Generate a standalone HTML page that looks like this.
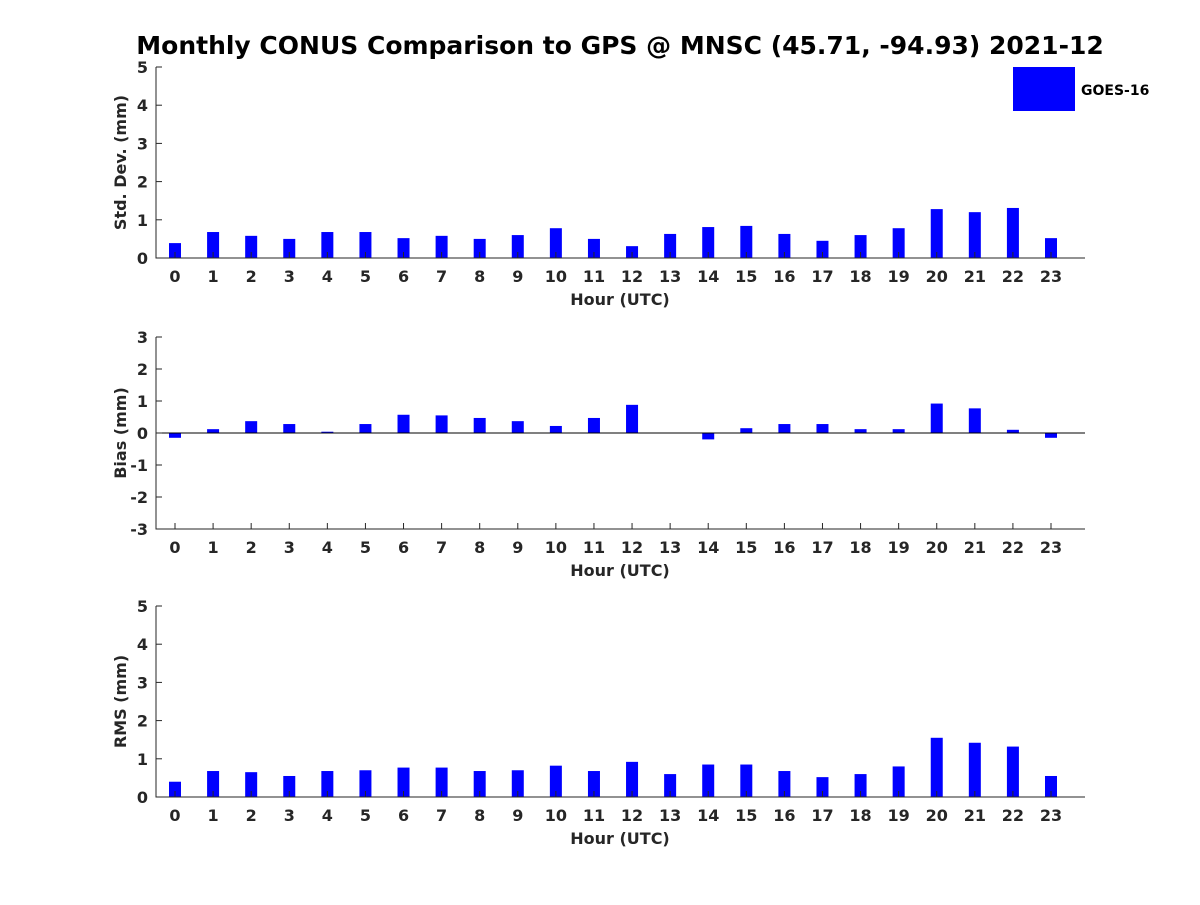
<!DOCTYPE html>
<html><head><meta charset="utf-8"><style>
html,body{margin:0;padding:0;background:#fff;}
svg text{font-family:"DejaVu Sans","Liberation Sans",sans-serif;font-weight:bold;fill:#262626;}
</style></head><body>
<svg id="chart" width="1200" height="900" xmlns="http://www.w3.org/2000/svg">
<text x="620" y="54" font-size="25" text-anchor="middle" style="fill:#000">Monthly CONUS Comparison to GPS @ MNSC (45.71, -94.93) 2021-12</text>
<g>
<rect x="1013" y="67" width="62" height="44" fill="#0000ff"/>
<text x="1081" y="95" font-size="14" style="fill:#000">GOES-16</text>
</g>
</svg>
<script>
const hours=[0,1,2,3,4,5,6,7,8,9,10,11,12,13,14,15,16,17,18,19,20,21,22,23];
const stdVals=[0.39,0.68,0.58,0.5,0.68,0.68,0.52,0.58,0.5,0.6,0.78,0.5,0.31,0.63,0.81,0.84,0.63,0.45,0.6,0.78,1.28,1.2,1.31,0.52];
const biasVals=[-0.15,0.12,0.37,0.28,0.04,0.28,0.57,0.55,0.47,0.37,0.22,0.47,0.88,0,-0.2,0.15,0.28,0.28,0.12,0.12,0.92,0.77,0.1,-0.15];
const rmsVals=[0.4,0.68,0.65,0.55,0.68,0.7,0.77,0.77,0.68,0.7,0.82,0.68,0.92,0.6,0.85,0.85,0.68,0.52,0.6,0.8,1.55,1.42,1.32,0.55];
const stdTicks=[0,1,2,3,4,5];
const biasTicks=[-3,-2,-1,0,1,2,3];
const rmsTicks=[0,1,2,3,4,5];
const NS='http://www.w3.org/2000/svg';
const svg=document.getElementById('chart');
function mk(tag,attrs,parent){const e=document.createElementNS(NS,tag);for(const k in attrs)e.setAttribute(k,attrs[k]);parent.appendChild(e);return e;}
const xL=156,xR=1085;
function xs(h){return 175+h*(1051-175)/23;}
function panel(name,vals,ticks,yMin,yMax,yTop,yBot,ylabel,zeroLine){
  const g=mk('g',{},svg);
  
  
  const ys=v=>yBot-(v-yMin)/(yMax-yMin)*(yBot-yTop);
  vals.forEach((v,i)=>{
    const y0=ys(0),y1=ys(v);
    const r=mk('rect',{x:xs(hours[i])-6,y:Math.min(y0,y1),width:12,height:Math.max(Math.abs(y1-y0),0.5),fill:'#0000ff'},g);
    
    
  });
  if(zeroLine){const z=mk('line',{x1:xL,x2:xR,y1:ys(0),y2:ys(0),stroke:'#000','stroke-width':1},g);
    
    }
  const ax=mk('path',{d:`M${xL} ${yTop}V${yBot}H${xR}`,fill:'none',stroke:'#262626','stroke-width':1},g);
  
  
  ticks.forEach(t=>{
    const y=ys(t);
    mk('line',{x1:xL,x2:xL+6,y1:y,y2:y,stroke:'#262626'},g);
    const tx=mk('text',{x:xL-8,y:y+6,'font-size':16,'text-anchor':'end'},g);
    tx.textContent=t;
    
    
  });
  hours.forEach(h=>{
    const x=xs(h);
    mk('line',{x1:x,x2:x,y1:yBot,y2:yBot-6,stroke:'#262626'},g);
    const tx=mk('text',{x:x,y:yBot+24,'font-size':16,'text-anchor':'middle'},g);
    tx.textContent=h;
    
    
  });
  const xl=mk('text',{x:620,y:yBot+47,'font-size':16,'text-anchor':'middle'},g);
  xl.textContent='Hour (UTC)';
  
  
  const yc=(yTop+yBot)/2;
  const yl=mk('text',{x:0,y:0,'font-size':16,'text-anchor':'middle',transform:`translate(126 ${yc}) rotate(-90)`},g);
  yl.textContent=ylabel;
  
  
}
panel('std-dev',stdVals,stdTicks,0,5,67,258,'Std. Dev. (mm)',false);
panel('bias',biasVals,biasTicks,-3,3,337,529,'Bias (mm)',true);
panel('rms',rmsVals,rmsTicks,0,5,606,797,'RMS (mm)',false);
</script>
</body></html>
